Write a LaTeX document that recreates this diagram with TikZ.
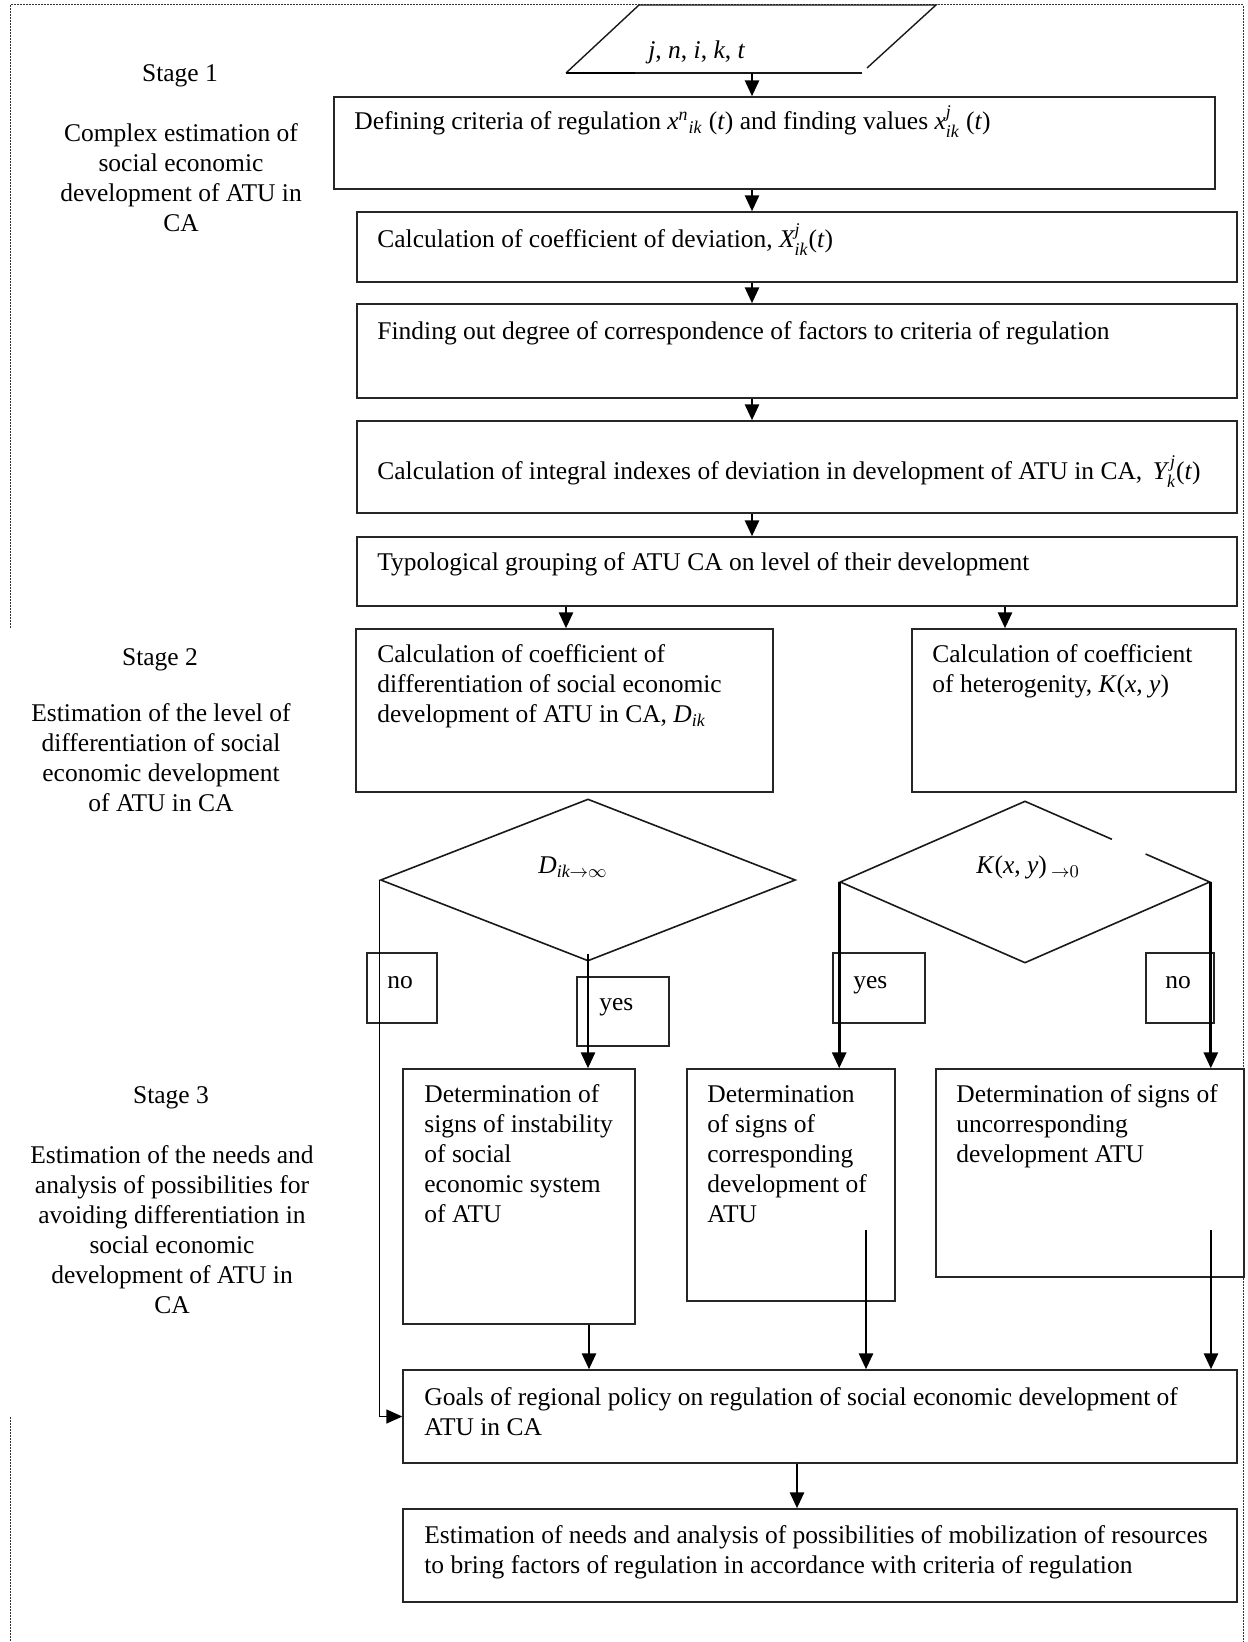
\documentclass[tikz,border=0pt]{standalone}
\usepackage{amsmath}
\usepackage{fontspec}
\setmainfont{Liberation Serif}
\usetikzlibrary{arrows.meta,shapes.geometric,fit,calc}
\newcommand{\mainsz}{\fontsize{12.75pt}{15pt}\selectfont}
\newcommand{\vi}[1]{\textit{#1}}
\begin{document}
\begin{tikzpicture}[x=0.5pt,y=-0.5pt,
  font=\mainsz,
  box/.style={draw=black!85, line width=0.7pt, inner sep=0pt},
  lbox/.style={draw=black!85, line width=0.6pt, inner sep=0pt},
  txt/.style={anchor=north west, inner sep=0pt, align=left},
  ctxt/.style={anchor=north, inner sep=0pt, align=center},
  arr/.style={line width=1.4pt, -{Triangle[length=8pt,width=7pt]}},
  thinarr/.style={line width=0.7pt, -{Triangle[length=8pt,width=7pt]}},
  border/.style={black!80, line width=0.5pt, dash pattern=on 0.8pt off 0.7pt},
  dia/.style={draw=black!90, line width=0.8pt, shape=diamond, inner sep=0pt},
]
\useasboundingbox (0,0) rectangle (1247,1642);

% dotted frame
\draw[border] (10,628) -- (10,5) -- (1243,5) -- (1243,1642);
\draw[border] (10,1417) -- (10,1642);

% input parallelogram
\draw[draw=black!90, line width=0.7pt] (566,73) -- (639,5) -- (936,5) -- (867,68);
\draw[draw=black!90, line width=0.7pt] (566,73) -- (862,73);
\draw[line width=1.2pt] (566,73) -- (635,73);
\node[txt] (pt) at (648,37) {\strut\vi{j}, \vi{n}, \vi{i}, \vi{k}, \vi{t}};
\coordinate (pin) at (752,73);

% stage labels
\node[ctxt] (s1) at (180,60) {\strut Stage 1};
\node[ctxt] (s1d) at (181,120) {\strut Complex estimation of\\social economic\\development of ATU in\\CA};
\node[ctxt] (s2) at (160,644) {\strut Stage 2};
\node[ctxt] (s2d) at (161,700) {\strut Estimation of the level of\\differentiation of social\\economic development\\of ATU in CA};
\node[ctxt] (s3) at (171,1082) {\strut Stage 3};
\node[ctxt] (s3d) at (172,1142) {\strut Estimation of the needs and\\analysis of possibilities for\\avoiding differentiation in\\social economic\\development of ATU in\\CA};

% boxes
\node[box, fit={(334,97) (1215,189)}] (b1) {};
\node[box, fit={(357,212) (1237,282)}] (b2) {};
\node[box, fit={(357,304) (1237,398)}] (b3) {};
\node[box, fit={(357,421) (1237,513)}] (b4) {};
\node[box, fit={(357,537) (1237,606)}] (b5) {};
\node[box, fit={(356,629) (773,792)}] (b6) {};
\node[box, fit={(912,629) (1236,792)}] (b7) {};
\node[box, fit={(403,1069) (635,1324)}] (b8) {};
\node[box, fit={(687,1069) (895,1301)}] (b9) {};
\node[box, fit={(936,1069) (1244,1277)}] (b10) {};
\node[box, fit={(403,1370) (1237,1463)}] (goals) {};
\node[box, fit={(403,1509) (1237,1602)}] (last) {};

% decisions
\node[dia, minimum width=207.5pt, minimum height=81pt] (d1) at (588,880) {};
\node[dia, minimum width=185pt, minimum height=81pt] (d2) at (1025,882) {};
\draw[white, line width=2.2pt] ($(d2.north)!0.47!(d2.east)$) -- ($(d2.north)!0.65!(d2.east)$);

% yes / no label boxes
\node[lbox, fit={(367,953) (437,1023)}] (no1) {};
\node[lbox, fit={(577,977) (669,1046)}] (yes1) {};
\node[lbox, fit={(833,953) (925,1023)}] (yes2) {};
\node[lbox, fit={(1146,953) (1214,1023)}] (no2) {};

% texts
\node[txt] (t1) at (354,105) {\strut Defining criteria of regulation $\vi{x}^{\vi{n}}{}_{\vi{ik}}$ (\vi{t}) and finding values $\vi{x}^{\vi{j}}_{\vi{ik}}$ (\vi{t})};
\node[txt] (t2) at (377,223) {\strut Calculation of coefficient of deviation, $\vi{X}^{\vi{j}}_{\vi{ik}}$(\vi{t})};
\node[txt] (t3) at (377,318) {\strut Finding out degree of correspondence of factors to criteria of regulation};
\node[txt] (t4) at (377,455) {\strut Calculation of integral indexes of deviation in development of ATU in CA, \,$\vi{Y}^{\,\vi{j}}_{\vi{k}}$(\vi{t})};
\node[txt] (t5) at (377,549) {\strut Typological grouping of ATU CA on level of their development};
\node[txt] (t6) at (377,641) {\strut Calculation of coefficient of\\differentiation of social economic\\development of ATU in CA, $\vi{D}_{\vi{ik}}$};
\node[txt] (t7) at (932,641) {\strut Calculation of coefficient\\of heterogenity, \vi{K}(\vi{x}, \vi{y})};
\node[txt] (dt1) at (538,852) {\strut$\vi{D}_{\vi{ik}\to\infty}$};
\node[txt] (dt2) at (976,852) {\strut\vi{K}(\vi{x}, \vi{y})\,$_{\to 0}$};
\node[txt] (tn1) at (387,967) {\strut no};
\node[txt] (ty1) at (599,989) {\strut yes};
\node[txt] (ty2) at (853,967) {\strut yes};
\node[txt] (tn2) at (1165,967) {\strut no};
\node[txt] (t8) at (424,1081) {\strut Determination of\\signs of instability\\of social\\economic system\\of ATU};
\node[txt] (t9) at (707,1081) {\strut Determination\\of signs of\\corresponding\\development of\\ATU};
\node[txt] (t10) at (956,1081) {\strut Determination of signs of\\uncorresponding\\development ATU};
\node[txt] (tg) at (424,1384) {\strut Goals of regional policy on regulation of social economic development of\\ATU in CA};
\node[txt] (tl) at (424,1522) {\strut Estimation of needs and analysis of possibilities of mobilization of resources\\to bring factors of regulation in accordance with criteria of regulation};

% connectors
\coordinate (cA) at (752,0);
\coordinate (cB) at (566,0);
\coordinate (cC) at (1005,0);
\coordinate (cD) at (797,0);
\coordinate (cE) at (589,0);
\coordinate (e9) at (866,1230);
\coordinate (e10) at (1211,1230);
\draw[arr] (pin) -- (pin |- b1.north);
\draw[arr] (b1.south -| cA) -- (b2.north -| cA);
\draw[arr] (b2.south -| cA) -- (b3.north -| cA);
\draw[arr] (b3.south -| cA) -- (b4.north -| cA);
\draw[arr] (b4.south -| cA) -- (b5.north -| cA);
\draw[arr] (b5.south -| cB) -- (b6.north -| cB);
\draw[arr] (b5.south -| cC) -- (b7.north -| cC);
\draw[thinarr] (d1.west) |- (goals.west);
\draw[arr] ([yshift=4pt]d1.south) -- (d1.south |- b8.north);
\draw[arr] (d2.west) -- (d2.west |- b9.north);
\draw[arr] (d2.east) -- (d2.east |- b10.north);
\draw[arr] (b8.south -| cE) -- (goals.north -| cE);
\draw[arr] (e9) -- (e9 |- goals.north);
\draw[arr] (e10) -- (e10 |- goals.north);
\draw[arr] (goals.south -| cD) -- (last.north -| cD);
\end{tikzpicture}
\end{document}
